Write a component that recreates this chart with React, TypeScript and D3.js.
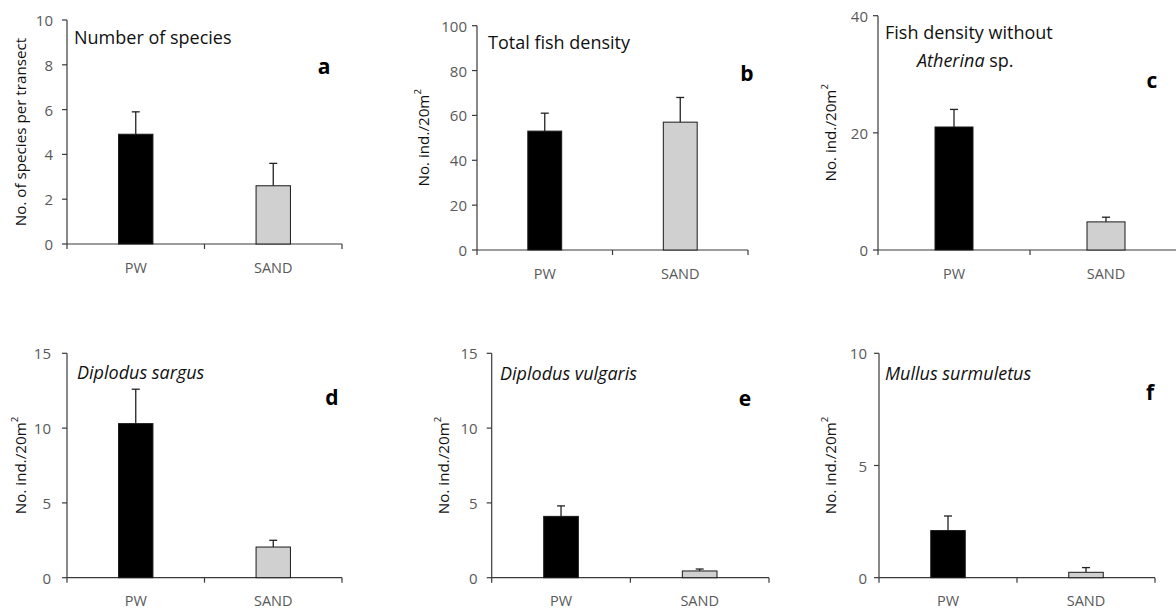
import React from "react";
import * as d3 from "d3";

const categories = ["PW", "SAND"];
const panelLetters = ["a", "b", "c", "d", "e", "f"];
const meanA = [4.9, 2.6];
const errA = [5.9, 3.6];
const meanB = [53, 57];
const errB = [61, 68];
const meanC = [21, 4.8];
const errC = [24, 5.6];
const meanD = [10.3, 2.05];
const errD = [12.6, 2.5];
const meanE = [4.1, 0.45];
const errE = [4.8, 0.58];
const meanF = [2.1, 0.24];
const errF = [2.75, 0.45];
const yMax = [10, 100, 40, 15, 15, 10];
const yStep = [2, 20, 20, 5, 5, 5];
const yLabelA = "No. of species per transect";
const yLabelDensity = "No. ind./20m";

const means = [meanA, meanB, meanC, meanD, meanE, meanF];
const errs = [errA, errB, errC, errD, errE, errF];

// layout (pixel geometry)
const layout = [
  { x0: 67, x1: 342, yTop: 20, y0: 244, lblX: 20, tickGap: 14, letterX: 324, letterY: 66, titleX: 74, titleY: 37 },
  { x0: 477, x1: 748, yTop: 25.7, y0: 250, lblX: 423, tickGap: 10, letterX: 747, letterY: 73, titleX: 488, titleY: 42 },
  { x0: 878, x1: 1182, yTop: 15.7, y0: 250, lblX: 830, tickGap: 10, letterX: 1152, letterY: 80, titleX: 885, titleY: 31.7 },
  { x0: 67, x1: 342, yTop: 353.3, y0: 577.7, lblX: 20, tickGap: 16, letterX: 332, letterY: 396.7, titleX: 77, titleY: 371.7 },
  { x0: 491.7, x1: 769, yTop: 353.3, y0: 577.7, lblX: 443, tickGap: 14, letterX: 745, letterY: 398.3, titleX: 500, titleY: 373.3 },
  { x0: 879, x1: 1155, yTop: 353.3, y0: 577.7, lblX: 830, tickGap: 12, letterX: 1150, letterY: 391.7, titleX: 885, titleY: 373.3 },
];

const FONT = "'Open Sans', sans-serif";
const AXIS = "#3a3a3a";
const TICK = "#595959";
const fills = ["#000000", "#d0d0d0"];

function Title({ i, x, y }: { i: number; x: number; y: number }) {
  const common = { x, y, fontFamily: FONT, fontSize: 18, fill: "#111", dominantBaseline: "central" as const };
  if (i === 0) return <text {...common}>Number of species</text>;
  if (i === 1) return <text {...common}>Total fish density</text>;
  if (i === 2)
    return (
      <g>
        <text {...common}>Fish density without</text>
        <text {...common} x={x + 32} y={y + 28.3}>
          <tspan fontStyle="italic">Atherina</tspan> sp.
        </text>
      </g>
    );
  if (i === 3) return <text {...common} fontStyle="italic">Diplodus sargus</text>;
  if (i === 4) return <text {...common} fontStyle="italic">Diplodus vulgaris</text>;
  return <text {...common} fontStyle="italic">Mullus surmuletus</text>;
}

function Panel({ i }: { i: number }) {
  const L = layout[i];
  const x = d3.scaleBand<string>().domain(categories).range([L.x0, L.x1]).padding(0);
  const y = d3.scaleLinear().domain([0, yMax[i]]).range([L.y0, L.yTop]);
  const ticks = d3.range(0, yMax[i] + 1e-9, yStep[i]);
  const bw = x.bandwidth() * 0.25;
  const midY = (L.y0 + L.yTop) / 2;
  return (
    <g>
      {/* y axis */}
      <line x1={L.x0} x2={L.x0} y1={L.yTop} y2={L.y0 + 5} stroke={AXIS} strokeWidth={1.2} />
      {ticks.map((t) => (
        <g key={t}>
          <line x1={L.x0 - 5} x2={L.x0} y1={y(t)} y2={y(t)} stroke={AXIS} strokeWidth={1.2} />
          <text x={L.x0 - L.tickGap} y={y(t)} textAnchor="end" dominantBaseline="central" fontFamily={FONT} fontSize={15} fill={TICK}>
            {t}
          </text>
        </g>
      ))}
      {/* x axis */}
      <line x1={L.x0} x2={L.x1} y1={L.y0} y2={L.y0} stroke={AXIS} strokeWidth={1.2} />
      {categories.slice(1).map((c) => (
        <line key={c} x1={x(c)!} x2={x(c)!} y1={L.y0} y2={L.y0 + 5} stroke={AXIS} strokeWidth={1.2} />
      ))}
      <line x1={L.x1} x2={L.x1} y1={L.y0} y2={L.y0 + 5} stroke={AXIS} strokeWidth={1.2} />
      {categories.map((c) => (
        <text key={c} x={x(c)! + x.bandwidth() / 2} y={L.y0 + 23} textAnchor="middle" dominantBaseline="central" fontFamily={FONT} fontSize={14.5} fill={TICK}>
          {c}
        </text>
      ))}
      {/* bars */}
      {categories.map((c, k) => {
        const cx = x(c)! + x.bandwidth() / 2;
        const top = y(means[i][k]);
        const et = y(errs[i][k]);
        return (
          <g key={c}>
            <line x1={cx} x2={cx} y1={top} y2={et} stroke="#222" strokeWidth={1.3} />
            <line x1={cx - 4} x2={cx + 4} y1={et} y2={et} stroke="#222" strokeWidth={1.3} />
            <rect x={cx - bw / 2} y={top} width={bw} height={L.y0 - top} fill={fills[k]} stroke="#1a1a1a" strokeWidth={1} />
          </g>
        );
      })}
      {/* y label */}
      <text transform={`translate(${L.lblX},${midY}) rotate(-90)`} textAnchor="middle" dominantBaseline="central" fontFamily={FONT} fontSize={15.2} fill="#111">
        {i === 0 ? (
          yLabelA
        ) : (
          <>
            {yLabelDensity}
            <tspan fontSize={9.5} dy={-6}>2</tspan>
          </>
        )}
      </text>
      <Title i={i} x={L.titleX} y={L.titleY} />
      <text x={L.letterX} y={L.letterY} textAnchor="middle" dominantBaseline="central" fontFamily={FONT} fontWeight="bold" fontSize={21} fill="#000">
        {panelLetters[i]}
      </text>
    </g>
  );
}

export default function App() {
  return (
    <svg width={1176} height={611} style={{ position: "absolute", left: 0, top: 0, background: "#fff" }}>
      <rect width={1176} height={611} fill="#fff" />
      {layout.map((_, i) => (
        <Panel key={i} i={i} />
      ))}
    </svg>
  );
}
